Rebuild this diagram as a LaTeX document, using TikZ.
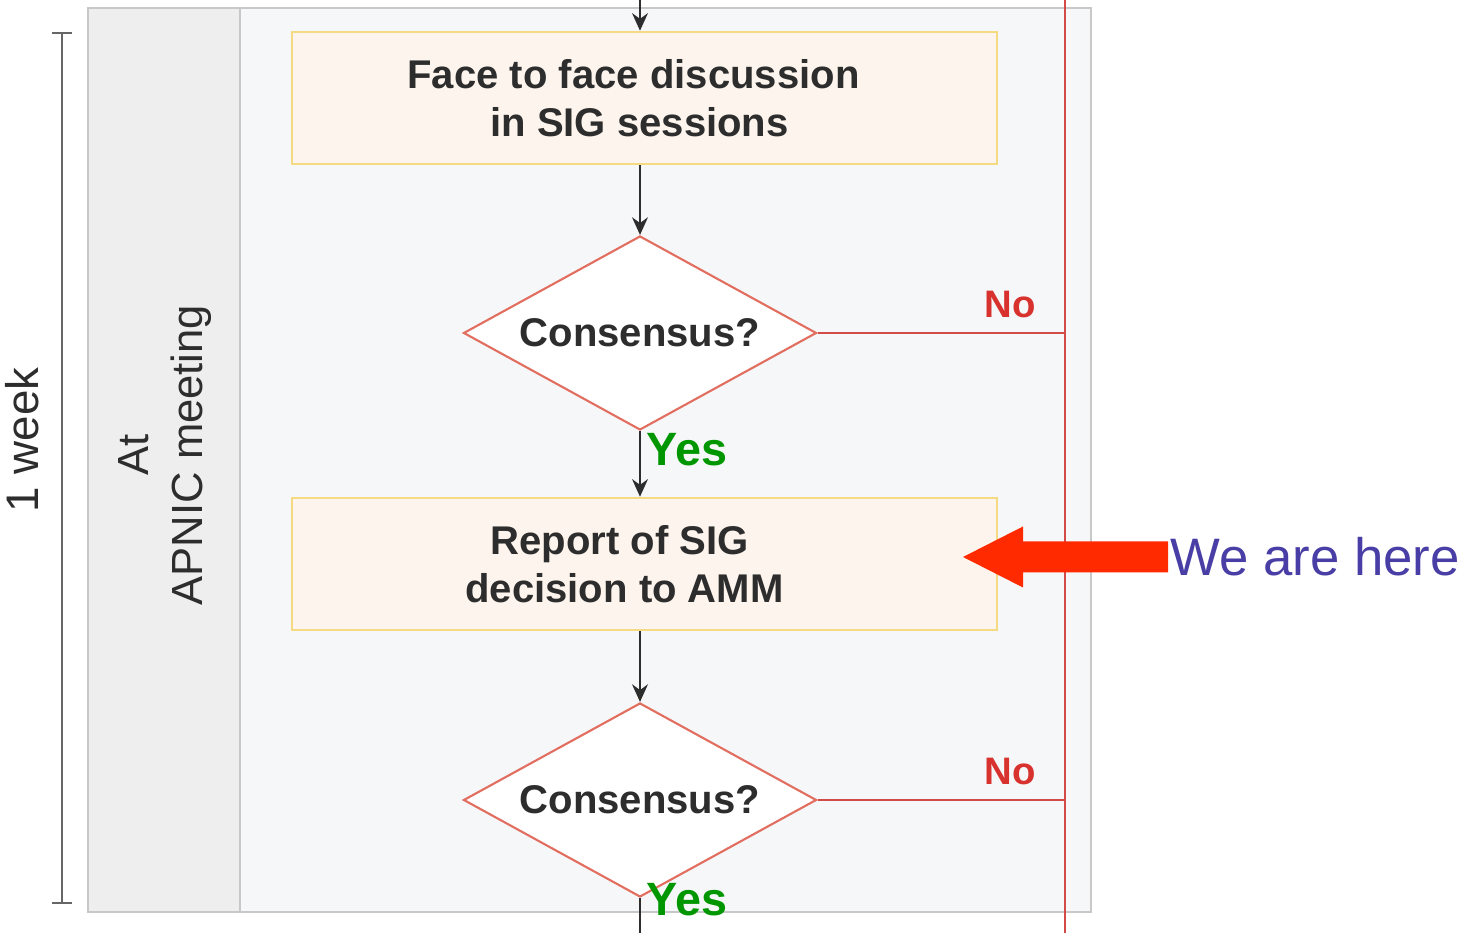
\documentclass[tikz,border=0pt]{standalone}
\usepackage{fontspec}
\setmainfont{Liberation Sans}
\usepackage{tikz}
\usetikzlibrary{arrows, arrows.meta, positioning, shapes.geometric}
\definecolor{panelgray}{RGB}{246,247,249}
\definecolor{sidegray}{RGB}{238,238,238}
\definecolor{framegray}{RGB}{200,200,200}
\definecolor{boxfill}{RGB}{253,245,237}
\definecolor{boxline}{RGB}{245,218,130}
\definecolor{diamline}{RGB}{226,110,95}
\definecolor{noline}{RGB}{210,75,70}
\definecolor{yesgreen}{RGB}{0,150,0}
\definecolor{nored}{RGB}{215,50,45}
\definecolor{herered}{RGB}{255,42,0}
\definecolor{hereblue}{RGB}{72,62,165}
\definecolor{txtdark}{RGB}{45,45,45}
\tikzset{
  stepbox/.style={
    minimum width=7.05cm,
    minimum height=1.32cm,
    align=center,
    draw=boxline,
    fill=boxfill,
    line width=0.7pt,
    text=txtdark,
    font=\fontsize{11.4}{13.6}\selectfont\bfseries
  },
  decision/.style={
    diamond,
    aspect=1.8,
    minimum width=3.53cm,
    minimum height=1.94cm,
    inner sep=0pt,
    draw=diamline,
    fill=white,
    line width=0.6pt,
    text=txtdark,
    font=\fontsize{11.4}{13.6}\selectfont\bfseries
  },
  yeslabel/.style={
    anchor=west,
    inner sep=0pt,
    text=yesgreen,
    font=\fontsize{13.3}{16}\selectfont\bfseries
  },
  nolabel/.style={
    text=nored,
    font=\fontsize{10.9}{13}\selectfont\bfseries
  },
  sidetext/.style={
    rotate=90,
    align=center,
    text=txtdark,
    font=\fontsize{12.4}{15.4}\selectfont
  },
  arrow/.style={draw=txtdark,line width=0.65pt,-{Stealth[length=5pt,width=4.5pt]}}
}
\begin{document}
\begin{tikzpicture}[every edge/.style={arrow}]
  \useasboundingbox (0,0) rectangle (14.66,9.33);
  % swimlane
  \fill[panelgray] (0.88,0.21) rectangle (10.91,9.25);
  \fill[sidegray] (0.88,0.21) rectangle (2.40,9.25);
  \draw[framegray,line width=0.6pt] (0.88,0.21) rectangle (10.91,9.25);
  \draw[framegray,line width=0.6pt] (2.40,0.21) -- (2.40,9.25);
  \node (lane) [sidetext] at (1.65,4.78) {At\\APNIC meeting};
  % time bracket
  \coordinate (wtop) at (0.62,9.00);
  \coordinate (wbot) at (0.62,0.30);
  \draw[gray!80!black,semithick] (wtop) -- (wbot)
    ([xshift=-0.1cm]wtop) -- ([xshift=0.1cm]wtop)
    ([xshift=-0.1cm]wbot) -- ([xshift=0.1cm]wbot);
  \node (week) [sidetext,font=\fontsize{13}{15}\selectfont] at (0.22,4.93) {1 week};
  % flow
  \coordinate (in) at (6.40,9.33);
  \coordinate (out) at (6.40,0);
  \coordinate (rtop) at (10.65,9.33);
  \coordinate (rbot) at (10.65,0);
  \node (f2f) [stepbox] at (6.445,8.35) {Face to face discussion\hspace*{0.22cm}\\in SIG sessions\hspace*{0.1cm}};
  \node (d1) [decision] at (6.40,6.00) {Consensus?};
  \node (report) [stepbox] at (6.445,3.69) {Report of SIG\hspace*{0.5cm}\\decision to AMM\hspace*{0.4cm}};
  \node (d2) [decision] at (6.40,1.33) {Consensus?};
  \draw[noline,line width=0.5pt] (rtop) -- (rbot);
  \draw[noline,line width=0.5pt] (d1.east) -- (d1.east -| rtop);
  \draw[noline,line width=0.5pt] (d2.east) -- (d2.east -| rtop);
  \draw[txtdark,line width=0.65pt] (d2.south) -- (out);
  \path
  (in) edge (in |- f2f.north)
  (in |- f2f.south) edge (d1.north)
  (d1.south) edge (in |- report.north)
  (in |- report.south) edge (d2.north)
  ;
  \node (no1) [nolabel] at (10.10,6.28) {No};
  \node (no2) [nolabel] at (10.10,1.61) {No};
  \node (yes1) [yeslabel] at (6.46,4.83) {Yes};
  \node (yes2) [yeslabel] at (6.46,0.33) {Yes};
  % we are here
  \fill[herered] (9.63,3.76) -- (10.23,4.065) -- (10.23,3.915) -- (11.68,3.915)
    -- (11.68,3.605) -- (10.23,3.605) -- (10.23,3.455) -- cycle;
  \node (here) [anchor=west,text=hereblue,font=\fontsize{15}{18}\selectfont,inner sep=0pt]
    at (11.70,3.76) {We are here};
\end{tikzpicture}
\end{document}
